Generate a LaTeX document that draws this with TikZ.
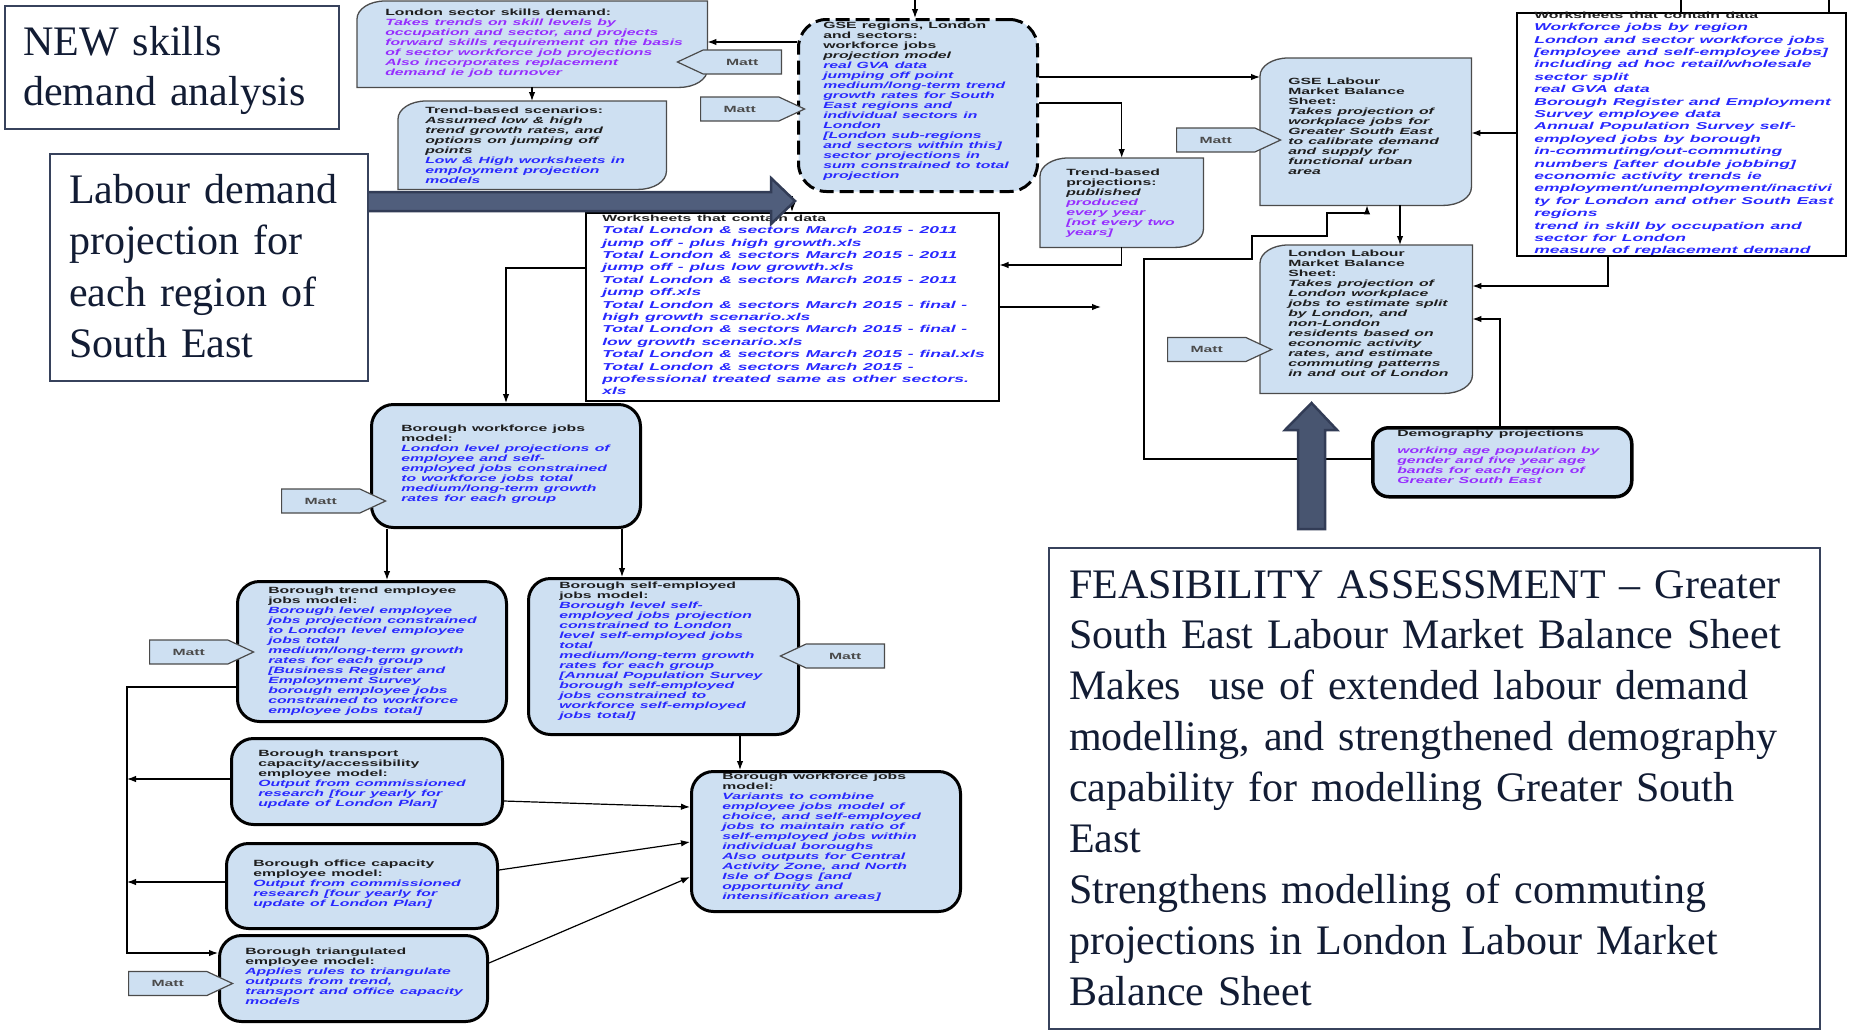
\documentclass[tikz,border=0pt]{standalone}
\usepackage{fontspec}
\setmainfont{Liberation Serif}
\newfontfamily\arialfont{Liberation Sans}
\usepackage{graphicx}
\usetikzlibrary{shapes.symbols,arrows.meta}

\definecolor{boxblue}{RGB}{206,224,242}
\definecolor{txtblue}{RGB}{40,40,255}
\definecolor{txtpurp}{RGB}{150,45,255}
\definecolor{head}{RGB}{30,30,30}
\definecolor{edge}{RGB}{75,75,75}
\definecolor{navy}{RGB}{18,28,52}
\definecolor{noteedge}{RGB}{55,66,92}
\definecolor{slate}{RGB}{80,94,124}
\definecolor{slatedark}{RGB}{50,60,86}

\newcommand{\diagbox}[1]{\filldraw[dbox] (#1.south west) -- ([yshift=-18pt]#1.north west) arc[start angle=180,end angle=90,x radius=28pt,y radius=18pt] -- (#1.north east) -- ([yshift=18pt]#1.south east) arc[start angle=0,end angle=-90,x radius=28pt,y radius=18pt] -- cycle;}

\begin{document}
\begin{tikzpicture}[x=1pt,y=1pt]
	\tikzstyle{every node}+=[inner sep=0pt]
	\tikzstyle{area}=[anchor=north west, draw=none]
	\tikzstyle{dbox}=[fill=boxblue, draw=edge, line width=1.3pt]
	\tikzstyle{bbox}=[anchor=north west, draw=black, line width=3pt, fill=boxblue, rounded corners=22pt]
	\tikzstyle{dashbox}=[bbox, dash pattern=on 14pt off 6pt, rounded corners=28pt]
	\tikzstyle{sbox}=[anchor=north west, draw=black, line width=1.5pt, fill=white]
	\tikzstyle{note}=[anchor=north west, draw=noteedge, line width=2pt, fill=white]
	\tikzstyle{txt}=[anchor=north west, align=left, text width=300pt, xscale=1.75, text=head, font=\arialfont\bfseries\fontsize{9}{10}\selectfont]
	\tikzstyle{sheet}=[txt, font=\arialfont\bfseries\fontsize{10}{12.4}\selectfont]
	\tikzstyle{big}=[anchor=north west, align=left, text width=800pt, text=navy, font=\fontsize{42}{51}\selectfont]
	\tikzstyle{matt}=[signal, draw=edge, fill=boxblue, line width=1.2pt, minimum width=104pt, minimum height=24pt, signal pointer angle=50, text=head!80, font=\arialfont\bfseries\fontsize{9}{10}\selectfont]
	\tikzstyle{con}=[draw=black, line width=1.2pt, -{Latex[length=9pt,width=6.5pt]}]
	\tikzstyle{line}=[draw=black, line width=1.2pt]
	\tikzstyle{bigarrow}=[fill=slate, draw=slatedark, line width=2.5pt, line join=miter]
	\useasboundingbox (0,0) rectangle (1854,-1031);

	\node[area, minimum width=350pt, minimum height=86pt] (lsd) at (357,-1) {};
	\diagbox{lsd}
	\node[txt] (lsdT) at (385,-8.5) {London sector skills demand:\\
		\color{txtpurp}\itshape Takes trends on skill levels by\\
		occupation and sector, and projects\\
		forward skills requirement on the basis\\
		of sector workforce job projections\\
		Also incorporates replacement\\
		demand ie job turnover};

	\node[area, minimum width=268pt, minimum height=88pt] (tbs) at (398,-101) {};
	\diagbox{tbs}
	\node[txt] (tbsT) at (425,-106.5) {Trend-based scenarios:\\
		\itshape Assumed low \& high\\
		trend growth rates, and\\
		options on jumping off\\
		points\\
		\color{txtblue}Low \& High worksheets in\\
		employment projection\\
		models};

	\node[dashbox, minimum width=239pt, minimum height=172pt] (gse) at (797,-18) {};
	\node[txt] (gseT) at (823,-21.5) {GSE regions, London\\
		and sectors:\\
		workforce jobs\\
		\itshape projection model\\
		\color{txtblue}real GVA data\\
		jumping off point\\
		medium/long-term trend\\
		growth rates for South\\
		East regions and\\
		individual sectors in\\
		London\\{}[London sub-regions\\
		and sectors within this]\\
		sector projections in\\
		sum constrained to total\\
		projection};

	\node[area, minimum width=163pt, minimum height=89pt] (tbp) at (1040,-158) {};
	\diagbox{tbp}
	\node[txt] (tbpT) at (1066,-168.5) {Trend-based\\
		projections:\\
		\itshape published\\
		\color{txtpurp}produced\\
		every year\\{}[not every two\\
		years]};

	\node[area, minimum width=211pt, minimum height=147pt] (glm) at (1260,-58) {};
	\diagbox{glm}
	\node[txt] (glmT) at (1288,-77.5) {GSE Labour\\
		Market Balance\\
		Sheet:\\
		\itshape Takes projection of\\
		workplace jobs for\\
		Greater South East\\
		to calibrate demand\\
		and supply for\\
		functional urban\\
		area};

	\node[sbox, minimum width=329pt, minimum height=243pt] (wsr) at (1516,-12) {};
	\node[sheet] (wsrT) at (1534,-11.5) {{\fontsize{9}{10}\selectfont Worksheets that contain data}\\
		\color{txtblue}\itshape Workforce jobs by region\\
		London and sector workforce jobs\\{}[employee and self-employee jobs]\\
		including ad hoc retail/wholesale\\
		sector split\\
		real GVA data\\
		Borough Register and Employment\\
		Survey employee data\\
		Annual Population Survey self-\\
		employed jobs by borough\\
		in-commuting/out-commuting\\
		numbers [after double jobbing]\\
		economic activity trends ie\\
		employment/unemployment/inactivi\\
		ty for London and other South East\\
		regions\\
		trend in skill by occupation and\\
		sector for London\\
		measure of replacement demand};

	\node[sbox, minimum width=413pt, minimum height=188pt] (wsm) at (585,-212) {};
	\node[sheet] (wsmT) at (602,-214.5) {{\fontsize{9}{10}\selectfont Worksheets that contain data}\\
		\color{txtblue}\itshape Total London \& sectors March 2015 - 2011\\
		jump off - plus high growth.xls\\
		Total London \& sectors March 2015 - 2011\\
		jump off - plus low growth.xls\\
		Total London \& sectors March 2015 - 2011\\
		jump off.xls\\
		Total London \& sectors March 2015 - final -\\
		high growth scenario.xls\\
		Total London \& sectors March 2015 - final -\\
		low growth scenario.xls\\
		Total London \& sectors March 2015 - final.xls\\
		Total London \& sectors March 2015 -\\
		professional treated same as other sectors.\\
		xls};

	\node[area, minimum width=212pt, minimum height=148pt] (llm) at (1260,-245) {};
	\diagbox{llm}
	\node[txt] (llmT) at (1288,-249.5) {London Labour\\
		Market Balance\\
		Sheet:\\
		\itshape Takes projection of\\
		London workplace\\
		jobs to estimate split\\
		by London, and\\
		non-London\\
		residents based on\\
		economic activity\\
		rates, and estimate\\
		commuting patterns\\
		in and out of London};

	\node[bbox, line width=3.5pt, rounded corners=16pt, minimum width=259pt, minimum height=69pt] (dem) at (1371,-426) {};
	\node[txt] (demT) at (1397,-429.5) {Demography projections\\[7pt]
		\color{txtpurp}\itshape working age population by\\
		gender and five year age\\
		bands for each region of\\
		Greater South East};

	\node[bbox, minimum width=269pt, minimum height=123pt] (bw1) at (370,-403) {};
	\node[txt] (bw1T) at (401,-424.5) {Borough workforce jobs\\
		model:\\
		\color{txtblue}\itshape London level projections of\\
		employee and self-\\
		employed jobs constrained\\
		to workforce jobs total\\
		medium/long-term growth\\
		rates for each group};

	\node[bbox, minimum width=269pt, minimum height=140pt] (bte) at (236,-580) {};
	\node[txt] (bteT) at (268,-586.5) {Borough trend employee\\
		jobs model:\\
		\color{txtblue}\itshape Borough level employee\\
		jobs projection constrained\\
		to London level employee\\
		jobs total\\
		medium/long-term growth\\
		rates for each group\\{}[Business Register and\\
		Employment Survey\\
		borough employee jobs\\
		constrained to workforce\\
		employee jobs total]};

	\node[bbox, minimum width=270pt, minimum height=156pt] (bse) at (527,-577) {};
	\node[txt] (bseT) at (559,-581.5) {Borough self-employed\\
		jobs model:\\
		\color{txtblue}\itshape Borough level self-\\
		employed jobs projection\\
		constrained to London\\
		level self-employed jobs\\
		total\\
		medium/long-term growth\\
		rates for each group\\{}[Annual Population Survey\\
		borough self-employed\\
		jobs constrained to\\
		workforce self-employed\\
		jobs total]};

	\node[bbox, minimum width=271pt, minimum height=86pt] (btc) at (230,-737) {};
	\node[txt] (btcT) at (258,-749.5) {Borough transport\\
		capacity/accessibility\\
		employee model:\\
		\color{txtblue}\itshape Output from commissioned\\
		research [four yearly for\\
		update of London Plan]};

	\node[bbox, minimum width=271pt, minimum height=85pt] (boc) at (225,-842) {};
	\node[txt] (bocT) at (253,-859.5) {Borough office capacity\\
		employee model:\\
		\color{txtblue}\itshape Output from commissioned\\
		research [four yearly for\\
		update of London Plan]};

	\node[bbox, minimum width=268pt, minimum height=86pt] (btr) at (218,-934) {};
	\node[txt] (btrT) at (245,-947.5) {Borough triangulated\\
		employee model:\\
		\color{txtblue}\itshape Applies rules to triangulate\\
		outputs from trend,\\
		transport and office capacity\\
		models};

	\node[bbox, minimum width=269pt, minimum height=140pt] (bw2) at (690,-770) {};
	\node[txt] (bw2T) at (722,-772.5) {Borough workforce jobs\\
		model:\\
		\color{txtblue}\itshape Variants to combine\\
		employee jobs model of\\
		choice, and self-employed\\
		jobs to maintain ratio of\\
		self-employed jobs within\\
		individual boroughs\\
		Also outputs for Central\\
		Activity Zone, and North\\
		Isle of Dogs [and\\
		opportunity and\\
		intensification areas]};

	\node[matt, signal to=west, anchor=east] (m1) at (782,-62) {\scalebox{1.75}[1]{Matt}};
	\node[matt, signal to=east, anchor=west] (m2) at (700,-109) {\scalebox{1.75}[1]{Matt}};
	\node[matt, signal to=east, anchor=west] (m3) at (1176,-140) {\scalebox{1.75}[1]{Matt}};
	\node[matt, signal to=east, anchor=west] (m4) at (1167,-349.5) {\scalebox{1.75}[1]{Matt}};
	\node[matt, signal to=east, anchor=west] (m5) at (281,-501) {\scalebox{1.75}[1]{Matt}};
	\node[matt, signal to=east, anchor=west] (m6) at (149,-652) {\scalebox{1.75}[1]{Matt}};
	\node[matt, signal to=west, anchor=east] (m7) at (885,-656) {\scalebox{1.75}[1]{Matt}};
	\node[matt, signal to=east, anchor=west] (m8) at (128,-983.5) {\scalebox{1.75}[1]{Matt}};

	\coordinate (gsein) at (915,0);
	\coordinate (wsin) at (792,-196);
	\coordinate (wsout) at (1101,-307);
	\coordinate (wsrup1) at (1681,0);
	\coordinate (wsrup2) at (1829,0);
	\coordinate (railtop) at (127,-687);
	\coordinate (railbot) at (127,-953);
	\draw[con] (gsein) -- (gse.north -| gsein);
	\draw[con] (gse.west |- 0,-42) -- (lsd.east |- 0,-42);
	\draw[con] (lsd.south -| 532,0) -- (tbs.north -| 532,0);
	\draw[con] (gse.east |- 0,-77) -- (glm.west |- 0,-77);
	\draw[con] (gse.east |- 0,-103) -| (tbp.north);
	\draw[con] (tbp.south) |- (wsm.east |- 0,-265);
	\draw[con] (wsm.east |- 0,-307) -- (wsout);
	\draw[con] (wsin) -- (wsm.north -| wsin);
	\draw[con] (wsm.west |- 0,-268) -| (bw1.north);
	\draw[con] (bw1.south -| 387,0) -- (bte.north -| 387,0);
	\draw[con] (bw1.south -| 622,0) -- (bse.north -| 622,0);
	\draw[con] (bte.west |- railtop) -- (railtop) -- (railbot) -- (btr.west |- railbot);
	\draw[con] (btc.west |- 0,-779) -- (railtop |- 0,-779);
	\draw[con] (boc.west |- 0,-882) -- (railtop |- 0,-882);
	\draw[con] (bse.south -| 740,0) -- (bw2.north -| 740,0);
	\draw[con] (btc.east |- 0,-801) -- (bw2.west |- 0,-807);
	\draw[con] (boc.east |- 0,-870) -- (bw2.west |- 0,-842);
	\draw[con] (btr.east |- 0,-963) -- (bw2.west |- 0,-877);
	\draw[con] (wsr.west |- 0,-133) -- (glm.east |- 0,-133);
	\draw[con] (glm.south -| 1400,0) -- (llm.north -| 1400,0);
	\draw[con] (wsr.south -| 1608,0) |- (llm.east |- 0,-286);
	\draw[con] (dem.north -| 1500,0) |- (llm.east |- 0,-319);
	\draw[con] (dem.west |- 0,-459) -- (1144,-459) -- (1144,-259) -- (1252,-259) -- (1252,-236) -- (1327,-236) -- (1327,-213) -- (1367,-213) -- (glm.south -| 1367,0);
	\draw[line] (wsr.north -| wsrup1) -- (wsrup1);
	\draw[line] (wsr.north -| wsrup2) -- (wsrup2);

	\filldraw[bigarrow] (365,-192) -- (771,-192) -- (771,-178) -- (795,-201) -- (771,-224) -- (771,-211) -- (365,-211) -- cycle;
	\filldraw[bigarrow, fill=slate!90!black] (1298,-529) -- (1298,-430) -- (1285,-430) -- (1311.5,-403) -- (1337,-430) -- (1325,-430) -- (1325,-529) -- cycle;

	\node[note, minimum width=334pt, minimum height=123pt] (newbox) at (4,-5) {};
	\node[big, font=\fontsize{42}{50}\selectfont] (newT) at (23,-26.3) {NEW skills\\demand analysis};
	\node[note, minimum width=318pt, minimum height=227pt] (labbox) at (49,-153) {};
	\node[big, font=\fontsize{42}{51.3}\selectfont] (labT) at (69,-174.3) {Labour demand\\projection for\\each region of\\South East};
	\node[note, minimum width=771pt, minimum height=481pt] (feasbox) at (1048,-547) {};
	\node[big, font=\fontsize{42}{50.9}\selectfont] (feasT) at (1069,-570) {FEASIBILITY ASSESSMENT -- Greater\\
		South East Labour Market Balance Sheet\\
		Makes\ \ use of extended labour demand\\
		modelling, and strengthened demography\\
		capability for modelling Greater South\\
		East\\
		Strengthens modelling of commuting\\
		projections in London Labour Market\\
		Balance Sheet};
\end{tikzpicture}
\end{document}
